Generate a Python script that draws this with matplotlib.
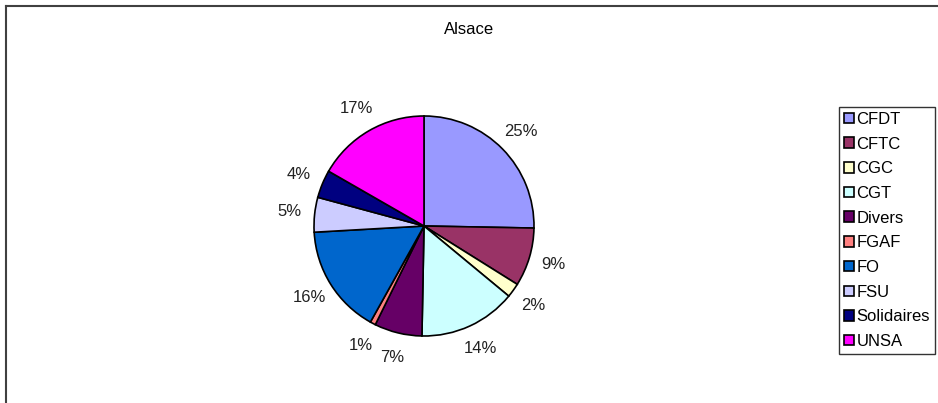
import matplotlib
matplotlib.use("Agg")
import matplotlib.pyplot as plt
from matplotlib.lines import Line2D

plt.rcParams['font.family'] = ['Liberation Sans', 'DejaVu Sans']

# Alsace - share of votes per union
unions = ["CFDT", "CFTC", "CGC", "CGT", "Divers", "FGAF", "FO", "FSU", "Solidaires", "UNSA"]
shares = [25.3, 8.6, 2.1, 14.3, 7.0, 0.8, 16.0, 5.1, 4.1, 16.7]
colors = ["#9999ff", "#993366", "#ffffcc", "#ccffff", "#660066",
          "#ff8080", "#0066cc", "#ccccff", "#000080", "#ff00ff"]

W, H = 938, 403
fig = plt.figure(figsize=(W / 100, H / 100), dpi=100)

# pie axes: centre (424, 226) px, radius ~110 px, limits +-1.3
cx, cy, r = 424, 226, 110
half = 1.3 * r
ax = fig.add_axes([(cx - half) / W, (H - cy - half) / H, 2 * half / W, 2 * half / H])
wedges, texts, autotexts = ax.pie(
    shares, colors=colors, startangle=90, counterclock=False,
    autopct="%.0f%%", pctdistance=1.23,
    wedgeprops=dict(edgecolor="black", linewidth=1.2),
    textprops=dict(fontsize=12, color="#222222"))
ax.set_xlim(-1.3, 1.3)
ax.set_ylim(-1.3, 1.3)
ax.set_aspect("equal")
ax.axis("off")

fig.text(469 / W, 1 - 29 / H, "Alsace", ha="center", va="center", fontsize=12)

leg = fig.legend(wedges, unions, loc="upper left",
                 bbox_to_anchor=(839 / W, 1 - 107 / H),
                 fontsize=12, frameon=True, fancybox=False,
                 handlelength=0.6, handleheight=0.6, handletextpad=0.15,
                 labelspacing=0.58, borderpad=0.3, borderaxespad=0)
leg.get_frame().set_edgecolor("black")
leg.get_frame().set_linewidth(1)

# outer frame (top and left edges only visible)
fig.add_artist(Line2D([6 / W, 1], [1 - 6 / H, 1 - 6 / H], color="#404040", linewidth=1.5,
                      transform=fig.transFigure))
fig.add_artist(Line2D([6 / W, 6 / W], [0, 1 - 6 / H], color="#404040", linewidth=1.5,
                      transform=fig.transFigure))

fig.savefig("out.png", dpi=100)
